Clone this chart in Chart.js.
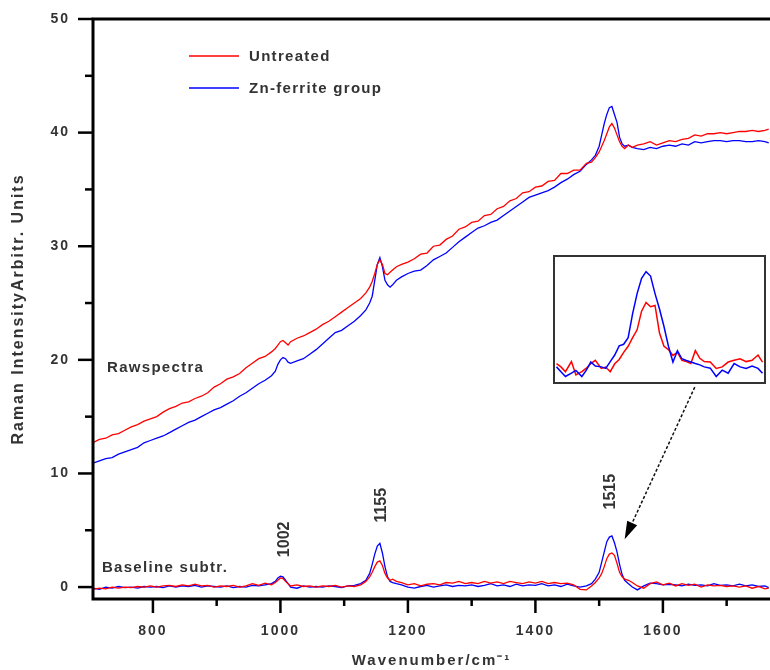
<!DOCTYPE html>
<html>
<head>
<meta charset="utf-8">
<script src="https://cdn.jsdelivr.net/npm/chart.js@4.4.1/dist/chart.umd.min.js"></script>
<style>
body { margin: 0; background: #fff; }
#cadre { position: relative; width: 770px; height: 670px; }
#encart { position: absolute; left: 553px; top: 255px; width: 213px; height: 129px;
          border: 2px solid #333; box-sizing: border-box; background: #fff; }
#encart canvas { display: block; }
</style>
</head>
<body>
<div id="cadre">
  <canvas id="spectre" width="770" height="670"></canvas>
  <div id="encart"><canvas id="zoomPic" width="209" height="125"></canvas></div>
</div>
<script>
// nombres d'onde (cm-1) communs aux quatre courbes
const nombreOnde = [
  706, 716, 726, 736, 746, 756, 766, 776, 786, 796,
  806, 816, 826, 836, 846, 856, 866, 876, 886, 896,
  906, 916, 926, 936, 946, 956, 966, 976, 986, 992,
  996, 1000, 1004, 1008, 1012, 1016, 1026, 1036, 1046, 1056,
  1066, 1076, 1086, 1096, 1106, 1116, 1126, 1134, 1140, 1144,
  1148, 1152, 1156, 1160, 1164, 1168, 1172, 1176, 1182, 1190,
  1200, 1210, 1220, 1230, 1240, 1250, 1260, 1270, 1280, 1290,
  1300, 1310, 1320, 1330, 1340, 1350, 1360, 1370, 1380, 1390,
  1400, 1410, 1420, 1430, 1440, 1450, 1460, 1470, 1480, 1488,
  1494, 1500, 1504, 1508, 1512, 1516, 1520, 1524, 1528, 1532,
  1536, 1540, 1546, 1552, 1560, 1570, 1580, 1590, 1600, 1610,
  1620, 1630, 1640, 1650, 1660, 1670, 1680, 1690, 1700, 1710,
  1720, 1730, 1740, 1750, 1760, 1766
];

// spectres bruts
const brutNonTraite = [
  12.7, 13.0, 13.1, 13.4, 13.5, 13.8, 14.1, 14.3, 14.6, 14.8,
  15.0, 15.4, 15.7, 15.9, 16.2, 16.3, 16.6, 16.8, 17.1, 17.6,
  17.9, 18.3, 18.5, 18.8, 19.3, 19.7, 20.1, 20.3, 20.7, 21.0,
  21.3, 21.6, 21.7, 21.5, 21.3, 21.6, 21.9, 22.1, 22.4, 22.7,
  23.1, 23.4, 23.8, 24.2, 24.6, 25.0, 25.4, 25.9, 26.4, 26.9,
  27.6, 28.4, 28.8, 28.4, 27.6, 27.5, 27.7, 27.9, 28.2, 28.4,
  28.6, 28.9, 29.3, 29.4, 30.0, 30.1, 30.6, 30.9, 31.5, 31.7,
  32.1, 32.2, 32.7, 32.8, 33.3, 33.5, 34.0, 34.2, 34.7, 34.8,
  35.2, 35.3, 35.7, 35.8, 36.4, 36.4, 36.7, 36.7, 37.3, 37.4,
  37.8, 38.3, 38.8, 39.3, 39.9, 40.5, 40.8, 40.4, 39.8, 39.2,
  38.8, 38.6, 38.9, 38.7, 38.9, 39.0, 39.2, 38.9, 39.1, 39.3,
  39.2, 39.4, 39.5, 39.8, 39.7, 39.9, 39.9, 40.0, 39.9, 40.0,
  40.1, 40.1, 40.2, 40.1, 40.2, 40.3
];
const brutZnFerrite = [
  10.9, 11.1, 11.3, 11.4, 11.7, 11.9, 12.1, 12.3, 12.7, 12.9,
  13.1, 13.3, 13.6, 13.9, 14.2, 14.5, 14.7, 15.0, 15.3, 15.6,
  15.8, 16.1, 16.4, 16.8, 17.1, 17.5, 17.9, 18.2, 18.6, 19.0,
  19.6, 20.0, 20.2, 20.1, 19.8, 19.7, 19.9, 20.1, 20.5, 20.9,
  21.4, 21.9, 22.4, 22.6, 23.0, 23.4, 23.9, 24.4, 25.0, 25.6,
  27.0, 28.4, 29.0, 28.2, 27.0, 26.6, 26.4, 26.6, 27.0, 27.3,
  27.6, 27.8, 27.9, 28.3, 28.8, 29.1, 29.4, 29.9, 30.4, 30.8,
  31.2, 31.6, 31.8, 32.1, 32.3, 32.7, 33.1, 33.5, 33.9, 34.3,
  34.5, 34.7, 34.9, 35.2, 35.6, 35.9, 36.3, 36.6, 37.2, 37.6,
  38.0, 38.8, 39.8, 40.8, 41.6, 42.2, 42.3, 41.6, 40.9, 39.6,
  39.0, 38.8, 38.9, 38.7, 38.6, 38.5, 38.7, 38.6, 38.8, 38.9,
  38.8, 39.0, 38.9, 39.2, 39.1, 39.2, 39.3, 39.3, 39.2, 39.3,
  39.3, 39.2, 39.2, 39.3, 39.2, 39.1
];

// spectres apres soustraction de la ligne de base
const baseNonTraite = [
  -0.2, -0.1, -0.15, 0.0, -0.1, 0.0, -0.05, 0.05, 0.0, 0.1,
  0.0, 0.1, 0.15, 0.05, 0.2, 0.1, 0.25, 0.1, 0.15, 0.0,
  0.1, 0.05, 0.15, 0.0, 0.1, 0.3, 0.15, 0.35, 0.2, 0.4,
  0.6, 0.8, 0.75, 0.5, 0.3, 0.1, 0.2, 0.05, 0.1, 0.0,
  0.1, 0.05, 0.15, 0.0, 0.1, 0.05, 0.2, 0.5, 0.9, 1.3,
  1.8, 2.2, 2.3, 1.9, 1.2, 0.8, 0.6, 0.7, 0.5, 0.4,
  0.2, 0.3, 0.1, 0.25, 0.3, 0.2, 0.4, 0.35, 0.5, 0.3,
  0.4, 0.3, 0.5, 0.35, 0.45, 0.3, 0.5, 0.4, 0.3, 0.45,
  0.35, 0.5, 0.3, 0.4, 0.3, 0.35, 0.2, -0.2, -0.25, 0.1,
  0.4, 0.8, 1.2, 1.8, 2.5, 2.9, 3.0, 2.8, 2.1, 1.3,
  0.9, 0.7, 0.6, 0.4, 0.1, -0.1, 0.3, 0.45, 0.2, 0.35,
  0.1, 0.3, 0.15, 0.25, 0.0, 0.2, 0.1, 0.15, 0.05, 0.1,
  0.0, 0.1, -0.1, 0.05, -0.15, -0.1
];
const baseZnFerrite = [
  -0.1, -0.2, 0.0, -0.1, 0.05, -0.05, 0.0, -0.1, 0.05, 0.0,
  0.05, -0.05, 0.1, 0.0, 0.1, 0.05, 0.15, 0.0, 0.1, 0.05,
  0.0, 0.1, -0.05, 0.05, 0.0, 0.15, 0.1, 0.2, 0.3, 0.5,
  0.8, 0.95, 0.9, 0.6, 0.3, 0.0, -0.1, 0.1, 0.0, 0.05,
  0.0, 0.1, 0.05, -0.05, 0.1, 0.15, 0.3, 0.6, 1.2, 2.0,
  2.9, 3.6, 3.85, 3.0, 1.8, 0.9, 0.5, 0.4, 0.3, 0.2,
  0.0, -0.1, 0.05, 0.15, 0.0, 0.1, 0.2, 0.05, 0.15, 0.1,
  0.2, 0.05, 0.15, 0.3, 0.1, 0.2, 0.05, 0.25, 0.1, 0.2,
  0.15, 0.3, 0.1, 0.2, 0.05, 0.25, 0.1, 0.0, 0.1, 0.3,
  0.7, 1.3, 2.2, 3.1, 4.0, 4.4, 4.5, 3.9, 3.1, 2.0,
  1.1, 0.6, 0.3, 0.0, -0.25, 0.1, 0.35, 0.3, 0.2, 0.25,
  0.2, 0.1, 0.25, 0.15, 0.2, 0.1, 0.3, 0.15, 0.2, 0.1,
  0.25, 0.1, 0.2, 0.05, 0.1, -0.05
];

// encart : agrandissement du pic a 1515
const encartOnde = [
  1461, 1464, 1467, 1471, 1474, 1478, 1481, 1484, 1487, 1491,
  1494, 1497, 1500, 1503, 1506, 1509, 1512, 1515, 1518, 1521,
  1524, 1527, 1530, 1533, 1536, 1539, 1542, 1545, 1548, 1551,
  1554, 1557, 1560, 1564, 1568, 1572, 1576, 1580, 1584, 1588,
  1592, 1596, 1599
];
const encartNonTraite = [
  0.21, 0.06, -0.16, 0.3, -0.31, -0.16, 0.0, 0.21, 0.36, -0.01,
  0.05, -0.16, 0.2, 0.4, 0.72, 1.0, 1.39, 1.75, 2.6, 3.0,
  2.8, 2.86, 1.6, 1.0, 0.85, 0.58, 0.72, 0.36, 0.3, 0.21,
  0.8, 0.45, 0.3, 0.28, -0.01, 0.06, 0.28, 0.36, 0.43, 0.3,
  0.36, 0.6, 0.28
];
const encartZnFerrite = [
  0.06, -0.16, -0.38, -0.23, -0.1, -0.38, -0.09, 0.28, 0.1, 0.06,
  -0.01, 0.3, 0.6, 1.02, 1.09, 1.39, 2.49, 3.4, 4.1, 4.4,
  4.2, 3.4, 2.7, 1.9, 1.0, 0.28, 0.8, 0.43, 0.35, 0.28,
  0.21, 0.15, 0.06, 0.0, -0.38, -0.09, -0.23, 0.21, 0.06, -0.01,
  0.1, -0.01, -0.23
];

// graduations et textes
const xGraduations = [800, 900, 1000, 1100, 1200, 1300, 1400, 1500, 1600, 1700];
const yGraduations = [0, 5, 10, 15, 20, 25, 30, 35, 40, 45, 50];
const legende = ['Untreated', 'Zn-ferrite group'];
const pics = [
  { texte: '1002', x: 1007, y: 4.2 },
  { texte: '1155', x: 1158, y: 7.2 },
  { texte: '1515', x: 1518, y: 8.4 }
];
const notes = [
  { texte: 'Rawspectra', x: 728, y: 19.3 },
  { texte: 'Baseline subtr.', x: 720, y: 1.67 }
];
// fleche : du bas de l'encart vers le pic
const fleche = { de: { x: 1650, y: 17.6 }, vers: { x: 1540, y: 4.2 } };

const ROUGE = '#ff0000';
const BLEU = '#0000ff';
const police = '"Liberation Sans", Arial, sans-serif';
Chart.defaults.font.family = police;
Chart.defaults.color = '#333';

const paires = (xs, ys) => xs.map((x, i) => ({ x: x, y: ys[i] }));

const habillage = {
  id: 'habillage',
  beforeDraw(chart) {
    chart.ctx.letterSpacing = '2px';
  },
  afterDraw(chart) {
    const ctx = chart.ctx;
    const { left, right, top, bottom } = chart.chartArea;
    const sx = chart.scales.x, sy = chart.scales.y;
    ctx.save();
    ctx.strokeStyle = '#000';
    ctx.lineWidth = 3;
    ctx.beginPath();
    ctx.moveTo(right, top);
    ctx.lineTo(left, top);
    ctx.lineTo(left, bottom);
    ctx.lineTo(right, bottom);
    ctx.stroke();

    // petites et grandes graduations
    ctx.lineWidth = 2.5;
    yGraduations.forEach(v => {
      const y = sy.getPixelForValue(v);
      const l = v % 10 === 0 ? 15 : 8;
      ctx.beginPath(); ctx.moveTo(left - l, y); ctx.lineTo(left, y); ctx.stroke();
    });
    xGraduations.forEach(v => {
      const x = sx.getPixelForValue(v);
      const l = v % 200 === 0 ? 14 : 7;
      ctx.beginPath(); ctx.moveTo(x, bottom); ctx.lineTo(x, bottom + l); ctx.stroke();
    });

    // legende
    const couleurs = [ROUGE, BLEU];
    ctx.font = 'bold 15px ' + police;
    ctx.letterSpacing = '1.3px';
    ctx.fillStyle = '#333';
    ctx.textBaseline = 'middle';
    ctx.textAlign = 'left';
    ctx.lineWidth = 1.5;
    legende.forEach((t, i) => {
      const y = 56 + i * 32;
      ctx.strokeStyle = couleurs[i];
      ctx.beginPath(); ctx.moveTo(189, y); ctx.lineTo(239, y); ctx.stroke();
      ctx.fillText(t, 249, y + 1);
    });

    // textes dans le graphe
    notes.forEach(n => {
      ctx.fillText(n.texte, sx.getPixelForValue(n.x), sy.getPixelForValue(n.y));
    });
    ctx.letterSpacing = '0px';
    ctx.font = 'bold 16px ' + police;
    ctx.textAlign = 'center';
    pics.forEach(p => {
      ctx.save();
      ctx.translate(sx.getPixelForValue(p.x), sy.getPixelForValue(p.y));
      ctx.rotate(-Math.PI / 2);
      ctx.fillText(p.texte, 0, 0);
      ctx.restore();
    });

    // fleche pointillee
    const x0 = sx.getPixelForValue(fleche.de.x), y0 = sy.getPixelForValue(fleche.de.y);
    const x1 = sx.getPixelForValue(fleche.vers.x), y1 = sy.getPixelForValue(fleche.vers.y);
    const ang = Math.atan2(y1 - y0, x1 - x0);
    ctx.strokeStyle = '#111';
    ctx.lineWidth = 1.5;
    ctx.setLineDash([3, 2]);
    ctx.beginPath();
    ctx.moveTo(x0, y0);
    ctx.lineTo(x1 - 16 * Math.cos(ang), y1 - 16 * Math.sin(ang));
    ctx.stroke();
    ctx.setLineDash([]);
    ctx.fillStyle = '#000';
    ctx.beginPath();
    ctx.moveTo(x1, y1);
    ctx.lineTo(x1 - 18 * Math.cos(ang) + 5.5 * Math.sin(ang), y1 - 18 * Math.sin(ang) - 5.5 * Math.cos(ang));
    ctx.lineTo(x1 - 18 * Math.cos(ang) - 5.5 * Math.sin(ang), y1 - 18 * Math.sin(ang) + 5.5 * Math.cos(ang));
    ctx.closePath();
    ctx.fill();
    ctx.restore();
  }
};

const policeAxe = { size: 14, weight: 'bold' };

new Chart(document.getElementById('spectre'), {
  type: 'line',
  data: {
    datasets: [
      { label: 'Untreated', data: paires(nombreOnde, brutNonTraite), borderColor: ROUGE },
      { label: 'Untreated, baseline', data: paires(nombreOnde, baseNonTraite), borderColor: ROUGE },
      { label: 'Zn-ferrite group', data: paires(nombreOnde, brutZnFerrite), borderColor: BLEU },
      { label: 'Zn-ferrite group, baseline', data: paires(nombreOnde, baseZnFerrite), borderColor: BLEU }
    ]
  },
  options: {
    responsive: false,
    animation: false,
    layout: { padding: { top: 19, right: 0, bottom: 0, left: 0 } },
    plugins: { legend: { display: false }, tooltip: { enabled: false } },
    elements: { point: { radius: 0 }, line: { borderWidth: 1.3, tension: 0 } },
    scales: {
      x: {
        type: 'linear', min: 706, max: 1768,
        afterFit: s => { s.height = 71; s.paddingLeft = 0; s.paddingRight = 0; },
        afterBuildTicks: s => { s.ticks = xGraduations.map(v => ({ value: v })); },
        grid: { display: false, drawTicks: false },
        border: { display: false },
        ticks: { padding: 24, font: policeAxe, color: '#333', maxRotation: 0, autoSkip: false,
                 callback: v => v % 200 === 0 ? String(v) : '' },
        title: { display: true, text: 'Wavenumber/cm⁻¹', font: { size: 15, weight: 'bold' }, color: '#333',
                 padding: { top: 0, bottom: 0 } }
      },
      y: {
        min: -1.05, max: 50,
        afterFit: s => { s.width = 93; s.paddingTop = 0; s.paddingBottom = 0; },
        afterBuildTicks: s => { s.ticks = yGraduations.map(v => ({ value: v })); },
        grid: { display: false, drawTicks: false },
        border: { display: false },
        ticks: { padding: 23, font: policeAxe, color: '#333', autoSkip: false,
                 callback: v => v % 10 === 0 ? String(v) : '' },
        title: { display: true, text: 'Raman IntensityArbitr. Units', font: { size: 16, weight: 'bold' }, color: '#333',
                 padding: { top: 9, bottom: 0 } }
      }
    }
  },
  plugins: [habillage]
});

new Chart(document.getElementById('zoomPic'), {
  type: 'line',
  data: {
    datasets: [
      { label: 'Zn-ferrite group', data: paires(encartOnde, encartZnFerrite), borderColor: BLEU },
      { label: 'Untreated', data: paires(encartOnde, encartNonTraite), borderColor: ROUGE }
    ]
  },
  options: {
    responsive: false,
    animation: false,
    layout: { padding: 0 },
    plugins: { legend: { display: false }, tooltip: { enabled: false } },
    elements: { point: { radius: 0 }, line: { borderWidth: 1.5, tension: 0 } },
    scales: {
      x: { type: 'linear', display: false, min: 1460, max: 1600 },
      y: { display: false, min: -0.63, max: 5.07 }
    }
  }
});
</script>
</body>
</html>
